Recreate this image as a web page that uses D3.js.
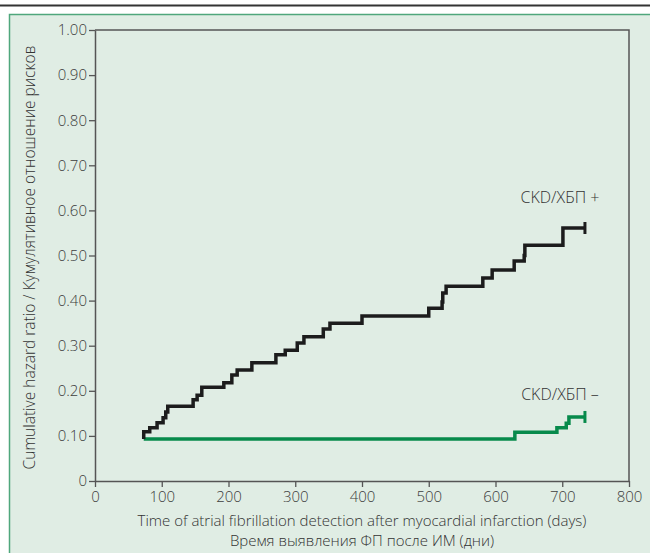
<!DOCTYPE html>
<html><head><meta charset="utf-8">
<script src="https://cdn.jsdelivr.net/npm/d3@7"></script>
<style>body{margin:0;background:#fff;}svg{display:block;}text{font-family:"Open Sans","Noto Sans",sans-serif;}</style>
</head><body>
<svg id="c" width="650" height="553"></svg>
<script>
// Data
const ckdPlusDays  = [73, 73, 82, 93, 102, 106, 109, 147, 153, 160, 193, 205, 213, 235, 271, 285, 303, 313, 342, 352, 400, 500, 520, 521, 526, 581, 595, 628, 643, 644, 701, 734];
const ckdPlusHR    = [0.093, 0.109, 0.118, 0.129, 0.140, 0.153, 0.166, 0.180, 0.190, 0.208, 0.218, 0.235, 0.246, 0.262, 0.280, 0.290, 0.306, 0.320, 0.337, 0.350, 0.366, 0.383, 0.397, 0.417, 0.432, 0.450, 0.468, 0.488, 0.500, 0.523, 0.561, 0.561];
const ckdMinusDays = [73, 629, 692, 706, 710, 734];
const ckdMinusHR   = [0.093, 0.108, 0.118, 0.128, 0.142, 0.142];
const xTicks = [0, 100, 200, 300, 400, 500, 600, 700, 800];
const yTicks = [0, 0.1, 0.2, 0.3, 0.4, 0.5, 0.6, 0.7, 0.8, 0.9, 1.0];
const seriesLabels = ["CKD/ХБП +", "CKD/ХБП –"];

const svg = d3.select("#c");
svg.append("rect").attr("x", 9.5).attr("y", 14.5).attr("width", 700).attr("height", 600)
  .attr("fill", "#e0ede4").attr("stroke", "#4fa77c").attr("stroke-width", 1.5);
svg.append("line").attr("x1", 0).attr("x2", 650).attr("y1", 5.5).attr("y2", 5.5)
  .attr("stroke", "#333").attr("stroke-width", 2);

const m = {l: 95, r: 629, t: 30, b: 481};
const x = d3.scaleLinear().domain([0, 800]).range([m.l, m.r]);
const y = d3.scaleLinear().domain([0, 1]).range([m.b, m.t]);

svg.append("path").attr("d", `M${m.l},${m.t}H${m.r}V${m.b}`).attr("fill", "none")
  .attr("stroke", "#555").attr("stroke-width", 1.5);

const xAxis = svg.append("g").attr("transform", `translate(0,${m.b})`)
  .call(d3.axisBottom(x).tickValues(xTicks).tickFormat(d3.format("d")).tickSize(6).tickSizeOuter(0));
const yAxis = svg.append("g").attr("transform", `translate(${m.l},0)`)
  .call(d3.axisLeft(y).tickValues(yTicks).tickFormat(d => d === 0 ? "0" : d3.format(".2f")(d)).tickSize(6).tickSizeOuter(0));
[xAxis, yAxis].forEach(g => {
  g.select(".domain").attr("stroke", "#555").attr("stroke-width", 1.5);
  g.selectAll(".tick line").attr("stroke", "#555").attr("stroke-width", 1.3);
  g.selectAll(".tick text").attr("fill", "#3d3d3d").style("font-size", "15px").style("font-family", "'Open Sans', sans-serif").style("font-weight", 300);
});
xAxis.selectAll(".tick text").attr("dy", "0.82em");
yAxis.selectAll(".tick text").attr("x", -8);

const line = d3.line().curve(d3.curveStepAfter).x(d => x(d[0])).y(d => y(d[1]));
function drawSeries(days, hr, color) {
  const pts = days.map((d, i) => [d, hr[i]]);
  svg.append("path").datum(pts).attr("d", line).attr("fill", "none")
    .attr("stroke", color).attr("stroke-width", 3.5).attr("stroke-linejoin", "miter").attr("stroke-linecap", "butt");
  const last = pts[pts.length - 1];
  svg.append("line").attr("x1", x(last[0])).attr("x2", x(last[0]))
    .attr("y1", y(last[1]) - 6).attr("y2", y(last[1]) + 6).attr("stroke", color).attr("stroke-width", 3);
}
drawSeries(ckdMinusDays, ckdMinusHR, "#078a4b");
drawSeries(ckdPlusDays, ckdPlusHR, "#1c1c1c");

const lab = (t, xx, yy) => svg.append("text").attr("x", xx).attr("y", yy).attr("text-anchor", "middle")
  .attr("fill", "#333").style("font-size", "16px").style("font-weight", 300).text(t);
lab(seriesLabels[0], 560, 203);
lab(seriesLabels[1], 560, 400);

const ttl = (t, yy) => svg.append("text").attr("x", 362).attr("y", yy).attr("text-anchor", "middle")
  .attr("fill", "#333").style("font-size", "15px").style("font-weight", 300).text(t);
ttl("Time of atrial fibrillation detection after myocardial infarction (days)", 526);
ttl("Время выявления ФП после ИМ (дни)", 546);
svg.append("text").attr("transform", `translate(35,${(m.t + m.b) / 2 + 2}) rotate(-90)`)
  .attr("text-anchor", "middle").attr("fill", "#333").style("font-size", "15.5px").style("font-weight", 300)
  .text("Cumulative hazard ratio / Кумулятивное отношение рисков");
</script>
</body></html>
